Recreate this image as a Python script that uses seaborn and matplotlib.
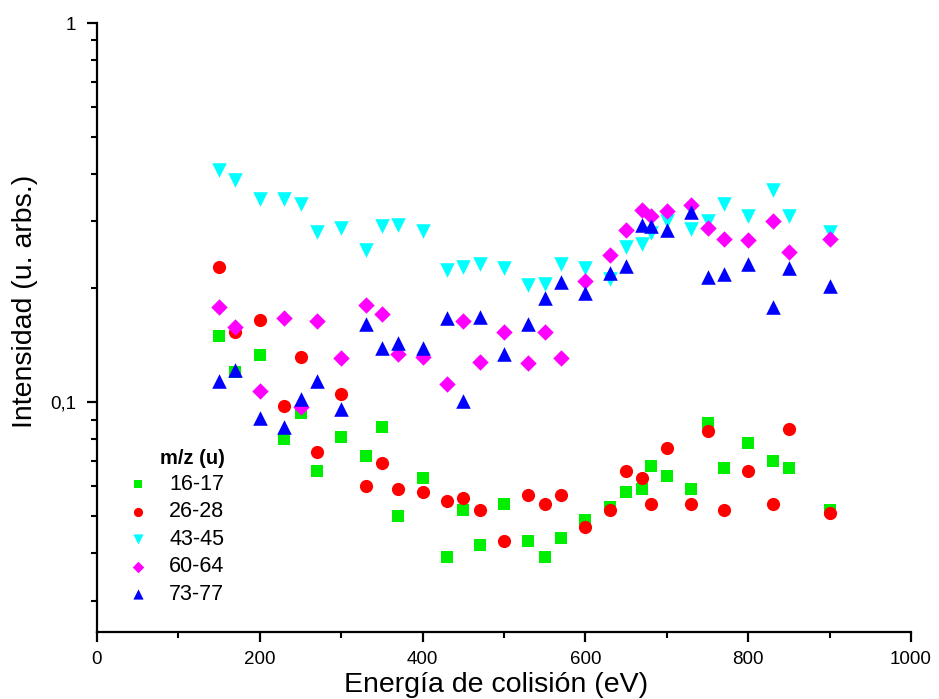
import numpy as np
import pandas as pd
import matplotlib
matplotlib.use("Agg")
import matplotlib.pyplot as plt
import matplotlib.ticker as mticker
import seaborn as sns

# energias de colision (eV)
energia = [150, 170, 200, 230, 250, 270, 300, 330, 350, 370, 400, 430, 450, 470, 500,
           530, 550, 570, 600, 630, 650, 670, 680, 700, 730, 750, 770, 800, 830, 850, 900]

mz_16_17 = [0.150, 0.120, 0.133, 0.080, 0.094, 0.066, 0.081, 0.072, 0.086, 0.050, 0.063,
            0.039, 0.052, 0.042, 0.054, 0.043, 0.039, 0.044, 0.049, 0.053, 0.058, 0.059,
            0.068, 0.064, 0.059, 0.088, 0.067, 0.078, 0.070, 0.067, 0.052]
mz_26_28 = [0.227, 0.153, 0.165, 0.098, 0.132, 0.074, 0.105, 0.060, 0.069, 0.059, 0.058,
            0.055, 0.056, 0.052, 0.043, 0.057, 0.054, 0.057, 0.047, 0.052, 0.066, 0.063,
            0.054, 0.076, 0.054, 0.084, 0.052, 0.066, 0.054, 0.085, 0.051]
mz_43_45 = [0.410, 0.385, 0.344, 0.344, 0.333, 0.282, 0.289, 0.252, 0.292, 0.294, 0.283,
            0.223, 0.228, 0.231, 0.226, 0.204, 0.205, 0.231, 0.226, 0.211, 0.257, 0.262,
            0.280, 0.300, 0.287, 0.301, 0.333, 0.310, 0.363, 0.310, 0.282]
mz_60_64 = [0.178, 0.158, 0.107, 0.167, 0.097, 0.164, 0.131, 0.181, 0.171, 0.134, 0.132,
            0.112, 0.164, 0.128, 0.153, 0.127, 0.153, 0.131, 0.209, 0.245, 0.285, 0.321,
            0.309, 0.320, 0.332, 0.288, 0.269, 0.268, 0.300, 0.249, 0.269]
mz_73_77 = [0.114, 0.122, 0.091, 0.086, 0.102, 0.114, 0.096, 0.161, 0.139, 0.143, 0.139,
            0.167, 0.101, 0.168, 0.134, 0.161, 0.188, 0.207, 0.194, 0.219, 0.229, 0.294,
            0.292, 0.284, 0.318, 0.214, 0.218, 0.231, 0.178, 0.226, 0.203]

grupos = ["16-17", "26-28", "43-45", "60-64", "73-77"]
colores = ["#00ee00", "#ff0000", "#00ffff", "#ff00ff", "#0000ff"]
marcadores = ["s", "o", "v", "D", "^"]

series = [mz_16_17, mz_26_28, mz_43_45, mz_60_64, mz_73_77]
df = pd.concat([pd.DataFrame({"E": energia, "I": s, "mz": g}) for g, s in zip(grupos, series)])

plt.rcParams["font.family"] = ["Liberation Sans", "DejaVu Sans"]

fig = plt.figure(figsize=(9.39, 6.99), dpi=100)
ax = fig.add_axes([0.1033, 0.0959, 0.8669, 0.8711])

sizes = {"s": 70, "o": 90, "v": 110, "D": 70, "^": 110}
for g, c, m in zip(grupos, colores, marcadores):
    sns.scatterplot(data=df[df.mz == g], x="E", y="I", color=c, marker=m,
                    s=sizes[m], linewidth=0, label=g, ax=ax)

ax.set_yscale("log")
ax.set_xlim(0, 1000)
ax.set_ylim(0.0248, 1)
ax.set_xticks([0, 200, 400, 600, 800, 1000])
ax.xaxis.set_minor_locator(mticker.MultipleLocator(100))
ax.set_yticks([0.1, 1])
ax.set_yticklabels(["0,1", "1"])
menores = [k * 0.01 for k in range(3, 10)] + [k * 0.1 for k in range(2, 10)]
ax.yaxis.set_minor_locator(mticker.FixedLocator(menores))
ax.yaxis.set_minor_formatter(mticker.NullFormatter())

for s in ["top", "right"]:
    ax.spines[s].set_visible(False)
for s in ["left", "bottom"]:
    ax.spines[s].set_linewidth(1.6)
ax.tick_params(which="major", length=7, width=1.6, labelsize=13.5, direction="out")
ax.tick_params(which="minor", length=4.5, width=1.5, direction="out")
ax.tick_params(axis="y", which="major", pad=8)
ax.tick_params(axis="x", which="major", pad=6.5)

ax.set_xlabel("Energía de colisión (eV)", fontsize=20.5)
ax.set_ylabel("Intensidad (u. arbs.)", fontsize=20.5)
ax.xaxis.set_label_coords(0.49, -0.066)
ax.yaxis.set_label_coords(-0.072, 0.5435)

leg = ax.legend(title="m/z (u)", loc="upper left", bbox_to_anchor=(0.0, 0.333),
                frameon=False, fontsize=15.5, markerscale=0.7, handletextpad=0.45,
                labelspacing=0.3, alignment="right")
leg.get_title().set_fontweight("bold")
leg.get_title().set_fontsize(14.5)

fig.savefig("out.png", dpi=100)
